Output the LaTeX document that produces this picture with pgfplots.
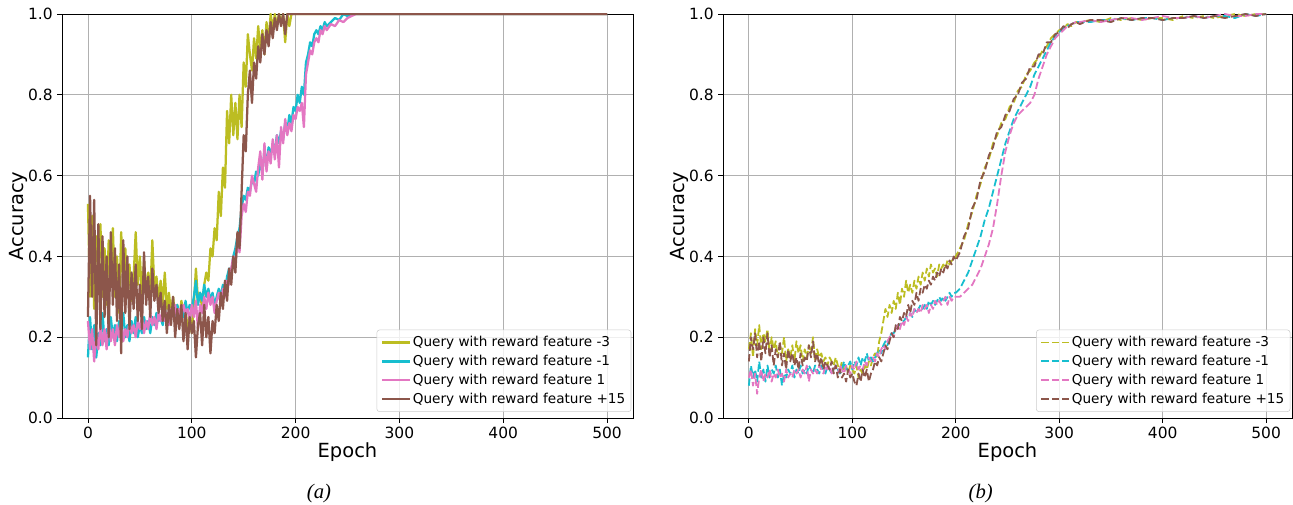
\documentclass[border=0pt]{standalone}
\usepackage{pgfplots}
\pgfplotsset{compat=1.18}
\usepackage{fontspec}
\setmainfont{DejaVu Sans}
\newfontfamily\capfont{Liberation Serif}
\newcommand\tickfont{\fontsize{11.6}{13}\selectfont}
\newcommand\labfont{\fontsize{14.6}{16}\selectfont}
\newcommand\legfont{\fontsize{10.2}{12}\selectfont}
\newcommand\captfont{\capfont\itshape\fontsize{15.5}{17}\selectfont}
\definecolor{cOlive}{HTML}{BCBD22}
\definecolor{cCyan}{HTML}{17BECF}
\definecolor{cPink}{HTML}{E377C2}
\definecolor{cBrown}{HTML}{8C564B}
\definecolor{gridgray}{HTML}{B0B0B0}
\definecolor{leggray}{HTML}{CCCCCC}
\pgfplotsset{
  accstyle/.style={
    scale only axis, height=303pt,
    xmin=-25, xmax=525, ymin=0, ymax=1,
    clip mode=individual,
    xtick={0,100,200,300,400,500}, ytick={0,0.2,0.4,0.6,0.8,1.0},
    xtick pos=bottom, ytick pos=left,
    /pgf/number format/assume math mode=true,
    xticklabel style={font=\tickfont},
    yticklabel style={font=\tickfont, /pgf/number format/.cd, fixed, fixed zerofill, precision=1},
    grid=major, grid style={color=gridgray, line width=0.6pt},
    tick align=outside, major tick length=3.5pt, tick style={black, line width=0.6pt},
    axis line style={line width=0.7pt},
    xlabel=Epoch, ylabel=Accuracy,
    xlabel style={font=\labfont, at={(axis description cs:0.5,-0.084)}, anchor=center},
    ylabel style={font=\labfont, at={(axis description cs:-0.077,0.5)}, anchor=center, rotate=0},
    legend style={at={(0.997,0.015)}, anchor=south east, font=\legfont,
      draw=leggray, rounded corners=2pt, fill=white, fill opacity=0.8, text opacity=1,
      row sep=2.3pt, inner xsep=3pt, inner ysep=3.5pt, nodes={inner sep=1.3pt}},
    legend cell align=left,
    legend image code/.code={\draw[#1] (0pt,0pt) -- (21pt,0pt);},
  },
  solidl/.style={line width=1.7pt, line join=round},
  dashl/.style={line width=1.35pt, dash pattern=on 5.5pt off 2.4pt, line join=round},
}
\begin{document}
\begin{tikzpicture}
\path[use as bounding box] (0,0) rectangle (969.75pt,-378.75pt);
% ---------------- (a) ----------------
\begin{axis}[accstyle, at={(46.5pt,-10.5pt)}, anchor=north west, width=428.25pt]
\addplot[cOlive, solidl] coordinates {
(0,0.53)(2,0.30)(4,0.50)(6,0.27)(8,0.45)(10,0.38)(12,0.48)(14,0.30)(16,0.42)(18,0.28)
(20,0.44)(22,0.33)(24,0.47)(26,0.30)(28,0.40)(30,0.26)(32,0.46)(34,0.34)(36,0.42)(38,0.30)
(40,0.38)(42,0.29)(44,0.35)(46,0.46)(48,0.33)(50,0.40)(52,0.30)(54,0.39)(56,0.31)(58,0.36)
(60,0.30)(62,0.44)(64,0.32)(66,0.35)(68,0.29)(70,0.34)(72,0.28)(74,0.36)(76,0.27)(78,0.31)
(80,0.26)(82,0.30)(84,0.25)(86,0.28)(88,0.24)(90,0.29)(92,0.26)(94,0.27)(96,0.22)(98,0.25)
(100,0.21)(102,0.28)(104,0.37)(106,0.29)(108,0.31)(110,0.27)(112,0.33)(114,0.36)(116,0.34)(118,0.42)
(120,0.40)(122,0.47)(124,0.44)(126,0.56)(128,0.50)(130,0.62)(132,0.57)(134,0.76)(136,0.68)(138,0.80)
(140,0.70)(142,0.78)(144,0.69)(146,0.80)(148,0.72)(150,0.88)(152,0.82)(154,0.95)(156,0.90)(158,0.86)
(160,0.94)(162,0.89)(164,0.97)(166,0.91)(168,0.96)(170,0.90)(172,0.98)(174,0.93)(176,1.0)(178,0.96)
(180,1.0)(182,0.97)(184,1.0)(186,0.98)(188,1.0)(190,0.93)(192,1.0)(194,0.97)(196,1.0)(200,1.0)(500,1.0)};
\addlegendentry{Query with reward feature -3}
\addplot[cCyan, solidl] coordinates {
(0,0.15)(2,0.25)(4,0.17)(6,0.23)(8,0.15)(10,0.21)(12,0.18)(14,0.26)(16,0.19)(18,0.22)
(20,0.18)(22,0.25)(24,0.20)(26,0.23)(28,0.19)(30,0.24)(32,0.21)(34,0.26)(36,0.20)(38,0.23)
(40,0.19)(42,0.24)(44,0.21)(46,0.25)(48,0.20)(50,0.23)(52,0.21)(54,0.25)(56,0.22)(58,0.24)
(60,0.21)(62,0.25)(64,0.23)(66,0.26)(68,0.24)(70,0.25)(72,0.23)(74,0.27)(76,0.24)(78,0.26)
(80,0.25)(82,0.27)(84,0.24)(86,0.28)(88,0.26)(90,0.27)(92,0.25)(94,0.29)(96,0.26)(98,0.28)
(100,0.27)(102,0.30)(104,0.34)(106,0.28)(108,0.31)(110,0.29)(112,0.33)(114,0.30)(116,0.32)(118,0.29)
(120,0.31)(122,0.28)(124,0.30)(126,0.32)(128,0.30)(130,0.33)(132,0.31)(134,0.35)(136,0.37)(138,0.36)
(140,0.40)(142,0.42)(144,0.45)(146,0.47)(148,0.52)(150,0.55)(152,0.54)(154,0.57)(156,0.56)(158,0.59)
(160,0.58)(162,0.61)(164,0.60)(166,0.63)(168,0.61)(170,0.66)(172,0.63)(174,0.67)(176,0.65)(178,0.68)
(180,0.66)(182,0.70)(184,0.68)(186,0.71)(188,0.69)(190,0.73)(192,0.71)(194,0.75)(196,0.73)(198,0.77)
(200,0.76)(202,0.80)(204,0.78)(206,0.82)(208,0.80)(210,0.88)(212,0.90)(214,0.93)(216,0.92)(218,0.95)
(220,0.96)(222,0.95)(224,0.97)(226,0.96)(228,0.98)(230,0.97)(234,0.98)(238,0.99)(242,0.985)(246,1.0)
(250,0.995)(254,1.0)(500,1.0)};
\addlegendentry{Query with reward feature -1}
\addplot[cPink, solidl] coordinates {
(0,0.24)(2,0.17)(4,0.22)(6,0.14)(8,0.21)(10,0.17)(12,0.23)(14,0.18)(16,0.22)(18,0.17)
(20,0.24)(22,0.19)(24,0.22)(26,0.18)(28,0.23)(30,0.20)(32,0.24)(34,0.19)(36,0.22)(38,0.20)
(40,0.24)(42,0.21)(44,0.23)(46,0.20)(48,0.24)(50,0.22)(52,0.25)(54,0.21)(56,0.24)(58,0.22)
(60,0.26)(62,0.23)(64,0.25)(66,0.22)(68,0.26)(70,0.24)(72,0.27)(74,0.24)(76,0.26)(78,0.23)
(80,0.27)(82,0.25)(84,0.28)(86,0.24)(88,0.27)(90,0.25)(92,0.28)(94,0.26)(96,0.27)(98,0.24)
(100,0.28)(102,0.25)(104,0.29)(106,0.22)(108,0.28)(110,0.26)(112,0.30)(114,0.27)(116,0.31)(118,0.28)
(120,0.30)(122,0.26)(124,0.29)(126,0.31)(128,0.28)(130,0.32)(132,0.30)(134,0.34)(136,0.33)(138,0.37)
(140,0.40)(142,0.38)(144,0.44)(146,0.41)(148,0.50)(150,0.53)(152,0.51)(154,0.56)(156,0.55)(158,0.60)
(160,0.58)(162,0.56)(164,0.62)(166,0.66)(168,0.59)(170,0.68)(172,0.61)(174,0.66)(176,0.63)(178,0.69)
(180,0.64)(182,0.70)(184,0.62)(186,0.72)(188,0.68)(190,0.74)(192,0.70)(194,0.73)(196,0.71)(198,0.75)
(200,0.74)(202,0.77)(204,0.76)(206,0.78)(208,0.72)(210,0.85)(212,0.88)(214,0.91)(216,0.90)(218,0.93)
(220,0.94)(222,0.93)(224,0.96)(226,0.95)(228,0.97)(230,0.96)(234,0.975)(238,0.97)(242,0.985)(246,0.98)
(250,0.99)(254,0.995)(258,1.0)(500,1.0)};
\addlegendentry{Query with reward feature 1}
\addplot[cBrown, solidl] coordinates {
(0,0.25)(2,0.55)(4,0.30)(6,0.54)(8,0.18)(10,0.48)(12,0.22)(14,0.45)(16,0.25)(18,0.40)
(20,0.20)(22,0.46)(24,0.28)(26,0.42)(28,0.24)(30,0.38)(32,0.16)(34,0.44)(36,0.26)(38,0.40)
(40,0.22)(42,0.36)(44,0.27)(46,0.38)(48,0.24)(50,0.33)(52,0.22)(54,0.41)(56,0.28)(58,0.35)
(60,0.25)(62,0.37)(64,0.29)(66,0.33)(68,0.26)(70,0.31)(72,0.24)(74,0.29)(76,0.21)(78,0.28)
(80,0.23)(82,0.30)(84,0.20)(86,0.27)(88,0.22)(90,0.28)(92,0.19)(94,0.26)(96,0.17)(98,0.25)
(100,0.21)(102,0.24)(104,0.15)(106,0.23)(108,0.26)(110,0.18)(112,0.28)(114,0.20)(116,0.25)(118,0.16)
(120,0.24)(122,0.21)(124,0.28)(126,0.24)(128,0.31)(130,0.27)(132,0.34)(134,0.29)(136,0.37)(138,0.33)
(140,0.40)(142,0.36)(144,0.46)(146,0.42)(148,0.56)(150,0.70)(152,0.66)(154,0.80)(156,0.86)(158,0.78)
(160,0.88)(162,0.84)(164,0.92)(166,0.88)(168,0.95)(170,0.90)(172,0.96)(174,0.92)(176,0.98)(178,0.94)
(180,0.99)(182,0.96)(184,1.0)(186,0.97)(188,1.0)(190,0.95)(192,1.0)(196,1.0)(500,1.0)};
\addlegendentry{Query with reward feature +15}
\node[font=\captfont] at (axis description cs:0.45,-0.188) {(a)};
\end{axis}
% ---------------- (b) ----------------
\begin{axis}[accstyle, at={(542.25pt,-10.5pt)}, anchor=north west, width=426.75pt]
\addplot[cOlive, dashl] coordinates {
(0,0.17)(2,0.21)(4,0.15)(6,0.22)(8,0.18)(10,0.23)(12,0.17)(14,0.21)(16,0.19)(18,0.22)
(20,0.16)(22,0.20)(24,0.17)(26,0.19)(28,0.15)(30,0.18)(32,0.16)(34,0.20)(36,0.14)(38,0.17)
(40,0.15)(42,0.18)(44,0.14)(46,0.19)(48,0.16)(50,0.18)(52,0.14)(54,0.17)(56,0.15)(58,0.18)
(60,0.16)(62,0.20)(64,0.14)(66,0.17)(68,0.15)(70,0.16)(72,0.14)(74,0.15)(76,0.13)(78,0.15)
(80,0.14)(82,0.13)(84,0.15)(86,0.13)(88,0.12)(90,0.14)(92,0.12)(94,0.13)(96,0.11)(98,0.13)
(100,0.12)(102,0.11)(104,0.13)(106,0.10)(108,0.12)(110,0.11)(112,0.13)(114,0.12)(116,0.14)(118,0.13)
(120,0.15)(122,0.16)(124,0.15)(126,0.19)(128,0.21)(130,0.24)(132,0.27)(134,0.25)(136,0.28)(138,0.26)
(140,0.29)(142,0.27)(144,0.31)(146,0.28)(148,0.32)(150,0.30)(152,0.34)(154,0.31)(156,0.33)(158,0.31)
(160,0.34)(162,0.32)(164,0.35)(166,0.33)(168,0.36)(170,0.34)(172,0.37)(174,0.35)(176,0.38)(178,0.36)
(180,0.37)(182,0.35)(184,0.38)(186,0.37)(188,0.38)(190,0.37)(192,0.39)(194,0.38)(196,0.39)(198,0.39)
(200,0.40)(204,0.42)(208,0.44)(212,0.48)(216,0.51)(220,0.55)(224,0.58)(228,0.62)(232,0.64)(236,0.68)
(240,0.70)(244,0.73)(248,0.74)(252,0.77)(256,0.78)(260,0.81)(264,0.82)(268,0.85)(272,0.86)(276,0.88)
(280,0.89)(284,0.91)(288,0.92)(292,0.94)(296,0.95)(300,0.96)(304,0.965)(308,0.975)(312,0.97)(316,0.98)
(320,0.98)(330,0.985)(340,0.98)(350,0.99)(360,0.985)(370,0.99)(380,0.985)(390,0.99)(400,0.99)(410,0.985)
(420,0.995)(430,0.99)(440,0.995)(450,0.99)(460,0.995)(470,1.0)(480,0.995)(490,1.0)(500,1.0)};
\addlegendentry{Query with reward feature -3}
\addplot[cCyan, dashl] coordinates {
(0,0.08)(2,0.13)(4,0.10)(6,0.12)(8,0.09)(10,0.14)(12,0.10)(14,0.12)(16,0.09)(18,0.13)
(20,0.10)(22,0.12)(24,0.11)(26,0.13)(28,0.10)(30,0.12)(32,0.08)(34,0.11)(36,0.10)(38,0.12)
(40,0.11)(42,0.13)(44,0.10)(46,0.12)(48,0.11)(50,0.13)(52,0.11)(54,0.12)(56,0.11)(58,0.13)
(60,0.12)(62,0.11)(64,0.13)(66,0.12)(68,0.11)(70,0.13)(72,0.12)(74,0.11)(76,0.13)(78,0.12)
(80,0.11)(82,0.12)(84,0.13)(86,0.12)(88,0.11)(90,0.12)(92,0.14)(94,0.12)(96,0.13)(98,0.14)
(100,0.12)(102,0.14)(104,0.13)(106,0.15)(108,0.13)(110,0.15)(112,0.14)(114,0.16)(116,0.14)(118,0.15)
(120,0.14)(122,0.15)(124,0.16)(126,0.17)(128,0.16)(130,0.18)(132,0.19)(134,0.18)(136,0.20)(138,0.21)
(140,0.21)(142,0.22)(144,0.23)(146,0.23)(148,0.24)(150,0.24)(152,0.25)(154,0.25)(156,0.26)(158,0.25)
(160,0.27)(162,0.26)(164,0.27)(166,0.28)(168,0.27)(170,0.28)(172,0.27)(174,0.29)(176,0.28)(178,0.29)
(180,0.28)(182,0.29)(184,0.30)(186,0.29)(188,0.30)(190,0.29)(192,0.30)(194,0.31)(196,0.30)(198,0.31)
(200,0.31)(204,0.32)(208,0.34)(212,0.36)(216,0.39)(220,0.42)(224,0.45)(228,0.49)(232,0.52)(236,0.56)
(240,0.60)(244,0.64)(248,0.68)(252,0.71)(256,0.74)(260,0.76)(264,0.78)(268,0.80)(272,0.82)(276,0.85)
(280,0.87)(284,0.89)(288,0.91)(292,0.93)(296,0.945)(300,0.955)(304,0.965)(308,0.97)(312,0.975)(316,0.98)
(320,0.98)(330,0.98)(340,0.985)(350,0.985)(360,0.99)(370,0.985)(380,0.99)(390,0.99)(400,0.985)(410,0.99)
(420,0.99)(430,0.995)(440,0.99)(450,0.995)(460,0.995)(470,0.99)(480,1.0)(490,0.995)(500,1.0)};
\addlegendentry{Query with reward feature -1}
\addplot[cPink, dashl] coordinates {
(0,0.10)(2,0.12)(4,0.08)(6,0.11)(8,0.06)(10,0.10)(12,0.12)(14,0.09)(16,0.11)(18,0.10)
(20,0.12)(22,0.09)(24,0.11)(26,0.10)(28,0.12)(30,0.10)(32,0.11)(34,0.09)(36,0.12)(38,0.10)
(40,0.11)(42,0.10)(44,0.12)(46,0.11)(48,0.12)(50,0.10)(52,0.12)(54,0.11)(56,0.13)(58,0.09)
(60,0.12)(62,0.11)(64,0.12)(66,0.11)(68,0.13)(70,0.12)(72,0.11)(74,0.13)(76,0.12)(78,0.13)
(80,0.11)(82,0.12)(84,0.13)(86,0.11)(88,0.13)(90,0.12)(92,0.11)(94,0.13)(96,0.12)(98,0.11)
(100,0.13)(102,0.12)(104,0.14)(106,0.12)(108,0.13)(110,0.12)(112,0.14)(114,0.13)(116,0.15)(118,0.14)
(120,0.15)(122,0.14)(124,0.16)(126,0.15)(128,0.17)(130,0.18)(132,0.17)(134,0.19)(136,0.20)(138,0.21)
(140,0.20)(142,0.22)(144,0.23)(146,0.22)(148,0.24)(150,0.23)(152,0.25)(154,0.24)(156,0.26)(158,0.25)
(160,0.27)(162,0.26)(164,0.27)(166,0.26)(168,0.28)(170,0.27)(172,0.28)(174,0.26)(176,0.28)(178,0.27)
(180,0.29)(182,0.28)(184,0.29)(186,0.28)(188,0.29)(190,0.30)(192,0.28)(194,0.30)(196,0.29)(198,0.30)
(200,0.30)(204,0.30)(208,0.31)(212,0.32)(216,0.33)(220,0.35)(224,0.37)(228,0.40)(232,0.43)(236,0.47)
(240,0.53)(244,0.60)(248,0.66)(252,0.70)(256,0.73)(260,0.75)(264,0.76)(268,0.77)(272,0.78)(276,0.80)
(280,0.84)(284,0.87)(288,0.90)(292,0.92)(296,0.94)(300,0.95)(304,0.96)(308,0.97)(312,0.975)(316,0.98)
(320,0.98)(330,0.985)(340,0.98)(350,0.985)(360,0.99)(370,0.99)(380,0.985)(390,0.99)(400,0.995)(410,0.99)
(420,0.99)(430,0.995)(440,0.99)(450,0.995)(460,1.0)(470,0.995)(480,0.995)(490,1.0)(500,1.0)};
\addlegendentry{Query with reward feature 1}
\addplot[cBrown, dashl] coordinates {
(0,0.14)(2,0.20)(4,0.17)(6,0.21)(8,0.15)(10,0.19)(12,0.14)(14,0.20)(16,0.16)(18,0.21)
(20,0.15)(22,0.18)(24,0.13)(26,0.17)(28,0.15)(30,0.19)(32,0.13)(34,0.16)(36,0.12)(38,0.17)
(40,0.14)(42,0.16)(44,0.13)(46,0.15)(48,0.12)(50,0.16)(52,0.13)(54,0.15)(56,0.14)(58,0.18)
(60,0.15)(62,0.19)(64,0.14)(66,0.16)(68,0.13)(70,0.15)(72,0.12)(74,0.14)(76,0.13)(78,0.12)
(80,0.14)(82,0.11)(84,0.13)(86,0.10)(88,0.12)(90,0.10)(92,0.11)(94,0.09)(96,0.12)(98,0.10)
(100,0.11)(102,0.09)(104,0.08)(106,0.11)(108,0.09)(110,0.12)(112,0.10)(114,0.12)(116,0.09)(118,0.11)
(120,0.12)(122,0.14)(124,0.13)(126,0.15)(128,0.14)(130,0.16)(132,0.18)(134,0.17)(136,0.19)(138,0.21)
(140,0.20)(142,0.23)(144,0.22)(146,0.25)(148,0.24)(150,0.26)(152,0.25)(154,0.28)(156,0.26)(158,0.29)
(160,0.28)(162,0.31)(164,0.29)(166,0.32)(168,0.31)(170,0.33)(172,0.32)(174,0.34)(176,0.33)(178,0.35)
(180,0.34)(182,0.36)(184,0.35)(186,0.37)(188,0.36)(190,0.38)(192,0.37)(194,0.39)(196,0.38)(198,0.40)
(200,0.39)(204,0.41)(208,0.45)(212,0.47)(216,0.52)(220,0.54)(224,0.59)(228,0.61)(232,0.65)(236,0.67)
(240,0.71)(244,0.72)(248,0.75)(252,0.76)(256,0.79)(260,0.80)(264,0.83)(268,0.84)(272,0.87)(276,0.87)
(280,0.90)(284,0.90)(288,0.93)(292,0.93)(296,0.95)(300,0.955)(304,0.97)(308,0.965)(312,0.975)(316,0.98)
(320,0.975)(330,0.985)(340,0.985)(350,0.98)(360,0.99)(370,0.985)(380,0.99)(390,0.99)(400,0.985)(410,0.99)
(420,0.99)(430,0.995)(440,0.99)(450,0.995)(460,0.99)(470,0.995)(480,1.0)(490,0.995)(500,1.0)};
\addlegendentry{Query with reward feature +15}
\node[font=\captfont] at (axis description cs:0.453,-0.188) {(b)};
\end{axis}
\end{tikzpicture}
\end{document}
